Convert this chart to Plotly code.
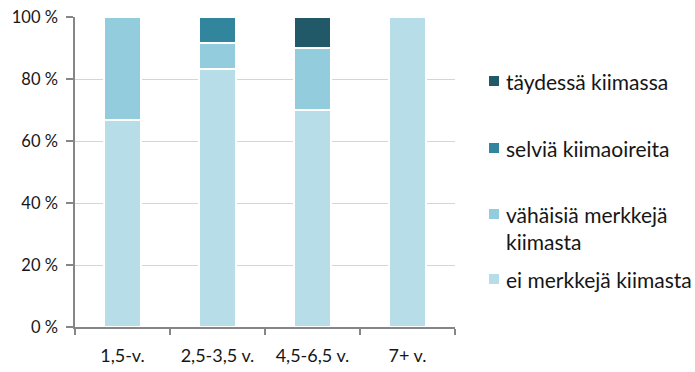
import plotly.graph_objects as go

# Age groups and share (%) of animals in each heat-sign class
categories = ["1,5-v.", "2,5-3,5 v.", "4,5-6,5 v.", "7+ v."]
ei_merkkeja = [66.7, 83.3, 70.0, 100.0]
vahaisia = [33.3, 8.3, 20.0, 0.0]
selvia = [0.0, 8.4, 0.0, 0.0]
taydessa = [0.0, 0.0, 10.0, 0.0]
y_ticks = [0, 20, 40, 60, 80, 100]
y_tick_text = ["0 %", "20 %", "40 %", "60 %", "80 %", "100 %"]

series = [
    ("ei merkkejä kiimasta", ei_merkkeja, "#B7DDE8"),
    ("vähäisiä merkkejä<br>kiimasta", vahaisia, "#93CDDD"),
    ("selviä kiimaoireita", selvia, "#31859C"),
    ("täydessä kiimassa", taydessa, "#215968"),
]

W, H = 695, 372
ML, MR, MT, MB = 75, 240, 17, 45
FONT = "Lato, Carlito, 'Liberation Sans', sans-serif"
TXT = "#161616"

fig = go.Figure()
for name, vals, col in series:
    fig.add_trace(go.Bar(
        x=categories, y=vals, name=name,
        marker=dict(color=col, line=dict(color="white", width=1.5)),
        showlegend=False,
    ))

# Legend drawn as squares + text placed to the right of the plot
pw = W - ML - MR
ph = H - MT - MB


def px_x(x):
    return (x - ML) / pw


def px_y(y):
    return 1 - (y - MT) / ph


legend_rows = [
    ("täydessä kiimassa", "#215968", 81),
    ("selviä kiimaoireita", "#31859C", 148),
    ("vähäisiä merkkejä<br>kiimasta", "#93CDDD", 214),
    ("ei merkkejä kiimasta", "#B7DDE8", 279),
]
shapes = []
annotations = []
for label, col, yc in legend_rows:
    shapes.append(dict(type="rect", xref="paper", yref="paper",
                       x0=px_x(489), x1=px_x(499), y0=px_y(yc + 5), y1=px_y(yc - 5),
                       fillcolor=col, line=dict(width=0)))
    annotations.append(dict(xref="paper", yref="paper", x=px_x(504), y=px_y(yc - 14),
                            xanchor="left", yanchor="top", align="left",
                            text=label, showarrow=False,
                            font=dict(family=FONT, size=21, color=TXT)))

fig.update_layout(
    barmode="stack",
    bargap=0.61,
    width=W, height=H,
    margin=dict(l=ML, r=MR, t=MT, b=MB),
    paper_bgcolor="white", plot_bgcolor="white",
    font=dict(family=FONT, size=18, color=TXT),
    shapes=shapes, annotations=annotations,
    xaxis=dict(
        type="category", tickson="boundaries", automargin=False,
        ticks="outside", ticklen=6, tickcolor="#868686", tickwidth=1.5,
        showline=True, linecolor="#868686", linewidth=1.5,
        showgrid=False, ticklabelstandoff=12,
        tickfont=dict(family=FONT, size=18, color=TXT),
    ),
    yaxis=dict(
        range=[0, 100], tickvals=y_ticks, ticktext=y_tick_text,
        automargin=False,
        ticks="outside", ticklen=7, tickcolor="#868686", tickwidth=1.5,
        showline=True, linecolor="#868686", linewidth=1.5,
        showgrid=True, gridcolor="#C9D6EE", gridwidth=1,
        zeroline=False, ticklabelstandoff=5,
        tickfont=dict(family=FONT, size=16.5, color=TXT),
    ),
)

fig.write_html("out.html")
